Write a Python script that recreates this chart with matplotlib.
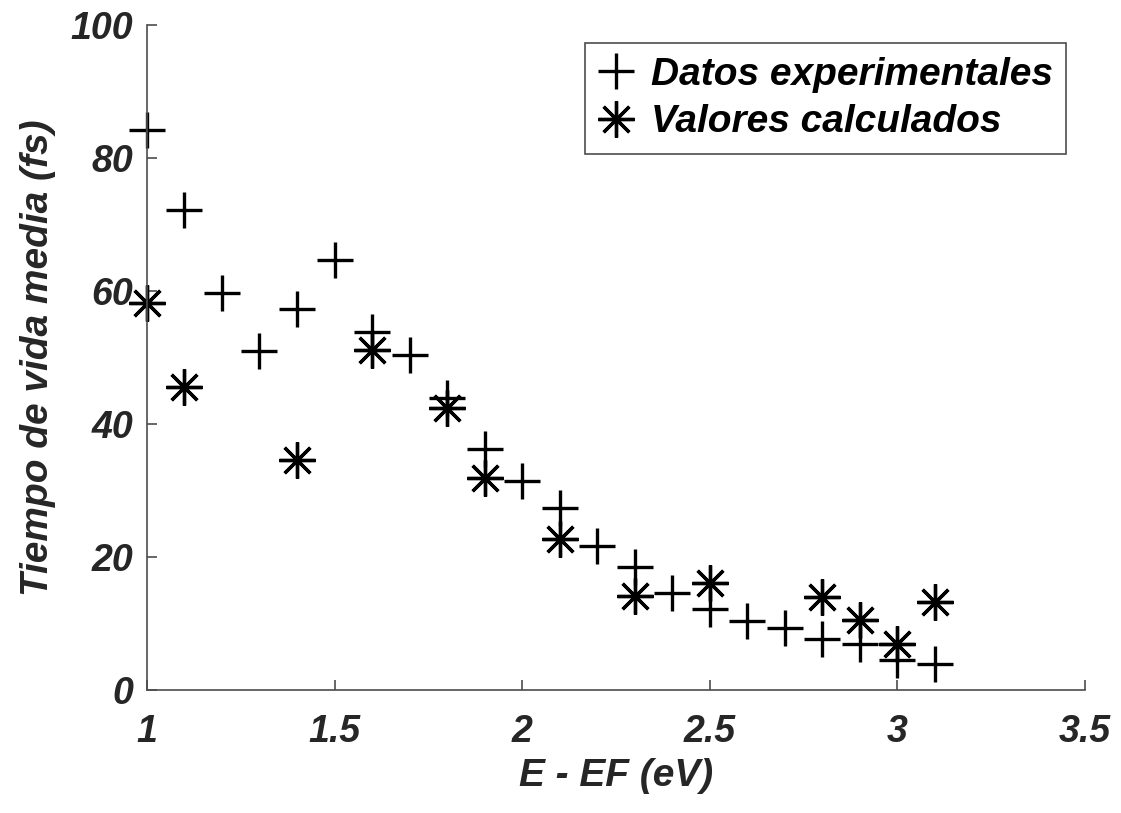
import matplotlib.pyplot as plt

# experimental lifetimes (fs) vs E - EF (eV)
x_exp = [1.0, 1.1, 1.2, 1.3, 1.4, 1.5, 1.6, 1.7, 1.8, 1.9, 2.0, 2.1, 2.2, 2.3, 2.4,
         2.5, 2.6, 2.7, 2.8, 2.9, 3.0, 3.1]
y_exp = [84.2, 72.2, 59.8, 51.0, 57.3, 64.7, 53.8, 50.4, 43.9, 36.2, 31.4, 27.4, 21.7,
         18.6, 14.6, 12.2, 10.4, 9.3, 7.7, 7.0, 4.6, 3.9]

# calculated values
x_calc = [1.0, 1.1, 1.4, 1.6, 1.8, 1.9, 2.1, 2.3, 2.5, 2.8, 2.9, 3.0, 3.1]
y_calc = [58.2, 45.6, 34.6, 51.1, 42.4, 31.9, 22.7, 14.1, 16.1, 14.0, 10.5, 7.0, 13.2]

xticks = [1, 1.5, 2, 2.5, 3, 3.5]
xticklabels = ['1', '1.5', '2', '2.5', '3', '3.5']
yticks = [0, 20, 40, 60, 80, 100]

plt.rcParams['font.family'] = ['Liberation Sans', 'DejaVu Sans']
plt.rcParams['font.weight'] = 'bold'
plt.rcParams['font.style'] = 'italic'
plt.rcParams['axes.labelweight'] = 'bold'

fig = plt.figure(figsize=(11.21, 8.13), dpi=100)
ax = fig.add_axes([0.131, 0.151, 0.837, 0.818])

ax.plot(x_exp, y_exp, '+', color='black', markersize=26, markeredgewidth=2.4,
        label='Datos experimentales', clip_on=False)
# MATLAB-style asterisk: 8 arms
ax.plot(x_calc, y_calc, marker=(8, 2, 0), color='black', linestyle='none',
        markersize=26, markeredgewidth=2.4, label='Valores calculados', clip_on=False)

ax.set_xlim(1, 3.5)
ax.set_ylim(0, 100)
ax.set_xticks(xticks)
ax.set_xticklabels(xticklabels)
ax.set_yticks(yticks)

for s in ['top', 'right']:
    ax.spines[s].set_visible(False)
for s in ['left', 'bottom']:
    ax.spines[s].set_color('#4d4d4d')
    ax.spines[s].set_linewidth(1.2)

ax.tick_params(direction='in', length=7, width=1.2, color='#4d4d4d',
               labelsize=27, labelcolor='#262626')
ax.tick_params(axis='x', pad=17)
ax.tick_params(axis='y', pad=10)

ax.set_xlabel('E - EF (eV)', fontsize=28, color='#262626', labelpad=6)
ax.set_ylabel('Tiempo de vida media (fs)', fontsize=28, color='#262626', labelpad=10)

leg = ax.legend(loc='upper right', bbox_to_anchor=(0.98, 0.973), fontsize=28,
                handlelength=0.9, handletextpad=0.45, borderpad=0.35,
                labelspacing=0.3, borderaxespad=0.0, fancybox=False, framealpha=1)
leg.get_frame().set_edgecolor('#4d4d4d')
leg.get_frame().set_linewidth(1.2)
for t in leg.get_texts():
    t.set_color('black')

fig.savefig('out.png', dpi=100, facecolor='white')
